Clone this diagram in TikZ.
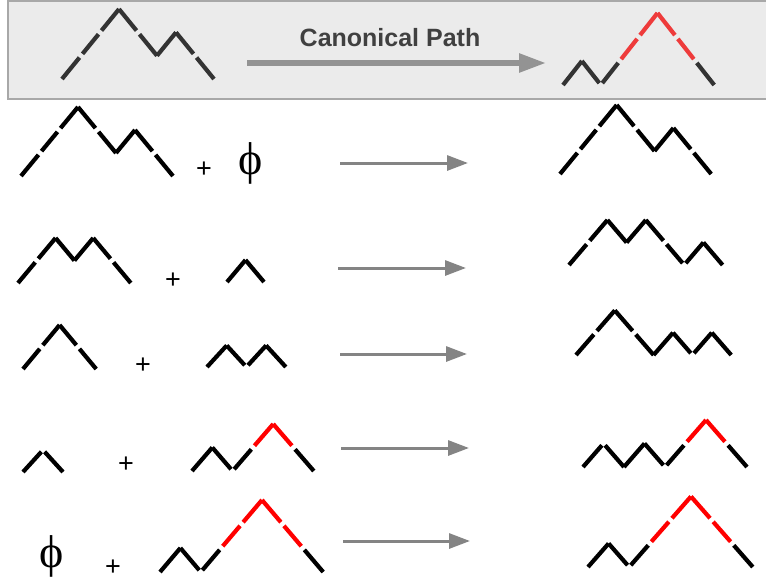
\documentclass[tikz,border=0pt]{standalone}
\usepackage{fontspec}
\setmainfont{Liberation Sans}
\newfontfamily\phifont{Liberation Serif}
\usetikzlibrary{arrows.meta}

\definecolor{boxfill}{HTML}{EBEBEB}
\definecolor{boxedge}{HTML}{A8A8A8}
\definecolor{topdark}{HTML}{333333}
\definecolor{topred}{HTML}{EE3B3B}
\definecolor{titlegray}{HTML}{404040}
\definecolor{bigarrow}{HTML}{939393}
\definecolor{smallarrow}{HTML}{848484}
\colorlet{dyblack}{black}
\colorlet{dyred}{red}

\tikzset{
  dyseg/.style={line width=4.2pt, line cap=butt},
  bigarr/.style={draw=bigarrow, line width=5.5pt, -{Triangle[length=27pt,width=18pt]}},
  smallarr/.style={draw=smallarrow, line width=3pt, -{Triangle[length=21pt,width=15pt]}},
  plussign/.style={font=\fontsize{27}{27}\selectfont, inner sep=0pt},
  phisign/.style={font=\phifont\fontsize{46}{46}\selectfont, inner sep=0pt},
}

\def\dygapsz{2.4pt}
\newif\ifdygap
\def\dyck#1#2#3#4#5{%
  \def\dyx{#1}\def\dyy{#2}\def\dyw{#3}\def\dyh{#4}\dygapfalse
  \dyckgo#5\relax}
\def\dyckgo#1{\ifx#1\relax\else\def\dycur{#1}\expandafter\dycklook\fi}
\def\dycklook{\futurelet\dynext\dyckdraw}
\def\dyckdraw{%
  \ifdygap\def\dyss{\dygapsz}\else\def\dyss{0pt}\fi
  \ifx\dynext.\def\dyse{\dygapsz}\dygaptrue\else\def\dyse{0pt}\dygapfalse\fi
  \if u\dycur\def\dysg{-1}\def\dycol{dyblack}\fi
  \if d\dycur\def\dysg{1}\def\dycol{dyblack}\fi
  \if U\dycur\def\dysg{-1}\def\dycol{dyred}\fi
  \if D\dycur\def\dysg{1}\def\dycol{dyred}\fi
  \pgfmathsetmacro\dynx{\dyx+\dyw}%
  \pgfmathsetmacro\dyny{\dyy+\dysg*\dyh}%
  \draw[dyseg,draw=\dycol,shorten <=\dyss,shorten >=\dyse] (\dyx,\dyy) -- (\dynx,\dyny);
  \let\dyx\dynx \let\dyy\dyny
  \ifx\dynext.\expandafter\dyckskip\else\expandafter\dyckgo\fi}
\def\dyckskip.{\dyckgo}

\begin{document}
\begin{tikzpicture}[x=1pt,y=-1pt]
\useasboundingbox (0,0) rectangle (766,581);
\fill[white] (0,0) rectangle (766,581);

% top box
\draw[draw=boxedge, line width=1.5pt, fill=boxfill] (8,0.8) rectangle (772,99);
\node[font=\bfseries\fontsize{25}{25}\selectfont, text=titlegray, anchor=base, inner sep=0pt] (title) at (390,46) {Canonical Path};
\coordinate (ta) at (247,63);
\coordinate (tb) at (546,63);
\draw[bigarr] (ta) -- (tb);
\begin{scope}
  \colorlet{dyblack}{topdark}\colorlet{dyred}{topred}
  \dyck{62}{79}{19}{23.3}{u.u.ud.dud.d}
  \dyck{563}{85}{18.9}{24}{ud.u.U.UD.D.d}
\end{scope}

% row 1
\dyck{21}{176}{19}{23}{u.u.ud.dud.d}
\node[plussign] (p1) at (204,170) {+};
\node[phisign] (f1) at (251,163) {ϕ};
\coordinate (a1) at (340,163); \coordinate (b1) at (468,163);
\draw[smallarr] (a1) -- (b1);
\dyck{560}{174}{18.9}{23}{u.u.ud.dud.d}

% row 2
\dyck{18}{283}{18.8}{22.5}{u.udud.d}
\node[plussign] (p2) at (173,281) {+};
\dyck{227}{282}{18.5}{22}{ud}
\coordinate (a2) at (338,268); \coordinate (b2) at (466,268);
\draw[smallarr] (a2) -- (b2);
\dyck{569}{265}{19.2}{22.5}{u.udud.d.ud}

% row 3
\dyck{23}{369}{18.3}{22}{u.ud.d}
\node[plussign] (p3) at (143,366) {+};
\dyck{207}{367}{19.7}{21.5}{ud.ud}
\coordinate (a3) at (340,354); \coordinate (b3) at (467,354);
\draw[smallarr] (a3) -- (b3);
\dyck{576}{355}{19.4}{22.3}{u.ud.dud.ud}

% row 4
\dyck{23}{472}{20}{22}{u.d}
\node[plussign] (p4) at (126,465) {+};
\dyck{192}{471}{20.3}{23.5}{ud.u.UD.d}
\coordinate (a4) at (341,448); \coordinate (b4) at (469,448);
\draw[smallarr] (a4) -- (b4);
\dyck{583}{467}{20.5}{23.5}{u.dud.u.UD.d}

% row 5
\node[phisign] (f5) at (52,556) {ϕ};
\node[plussign] (p5) at (113,568) {+};
\dyck{160}{572}{20.4}{24}{ud.u.U.UD.D.d}
\coordinate (a5) at (343,541); \coordinate (b5) at (470,541);
\draw[smallarr] (a5) -- (b5);
\dyck{588}{567}{20.6}{23.5}{ud.u.U.UD.D.d}
\end{tikzpicture}
\end{document}
